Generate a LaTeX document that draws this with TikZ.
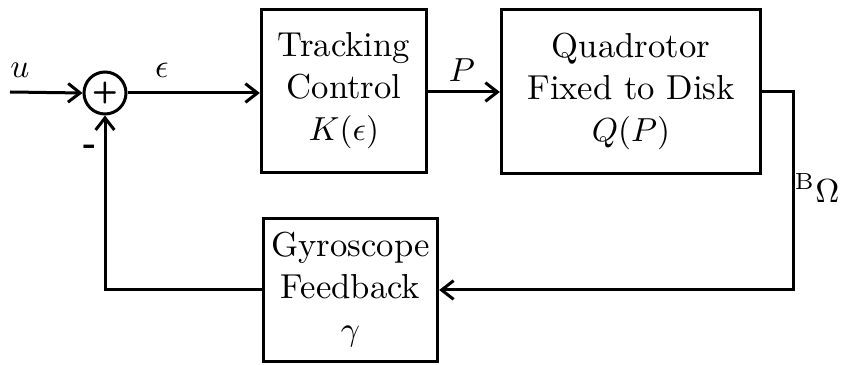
\documentclass[tikz,border=0pt]{standalone}
\usepackage{amsmath}
\usetikzlibrary{arrows.meta}

\begin{document}
\begin{tikzpicture}[
    x=0.3pt, y=-0.3pt,
    font=\fontsize{10.4}{12.6}\selectfont,
    >={Straight Barb[length=3.6pt,width=5.6pt]},
    blk/.style={draw, line width=0.9pt, align=center, inner sep=2pt},
    sumj/.style={draw, circle, line width=0.9pt, minimum size=12.6pt, inner sep=0pt},
    lab/.style={inner sep=1pt},
    sig/.style={->, line width=0.9pt},
  ]
  \useasboundingbox (0,0) rectangle (841,365);

  %% ---- forward path ------------------------------------------------
  \coordinate (in) at (10,92);
  \node[sumj] (sum) at (105,93) {\sffamily\bfseries\small +};
  \node[blk, minimum width=49.6pt, minimum height=49pt] (track) at (344,91)
    {Tracking\\ Control\\ $K(\epsilon)$};
  \node[blk, minimum width=77.8pt, minimum height=49.3pt] (quad) at (631,91.5)
    {Quadrotor\\ Fixed to Disk\\ $Q(P)$};

  \draw[sig] (in) -- (sum.west);
  \draw[sig] (sum.east) -- (track.west |- sum.east);
  \draw[sig] (track.east |- in) -- (quad.west |- in);

  \node[lab] (u)   at (20,70)  {$u$};
  \node[lab] (eps) at (162,70) {$\epsilon$};
  \node[lab] (P)   at (462,70) {$P$};

  %% ---- feedback path -----------------------------------------------
  \node[blk, minimum width=52.3pt, minimum height=43pt] (gyro) at (350.5,290)
    {Gyroscope\\ Feedback\\ $\gamma$};

  \coordinate (turn) at (793,92);
  \draw[sig] (quad.east |- turn) -- (turn) |- (gyro.east);
  \draw[sig] (gyro.west) -| (sum.south);

  \node[lab, inner sep=0pt, anchor=east] (omega) at (840,188)
    {${}^{\mathrm{B}}\Omega$};
  \node[lab] (minus) at (90,150)  {\bfseries -};

\end{tikzpicture}
\end{document}
